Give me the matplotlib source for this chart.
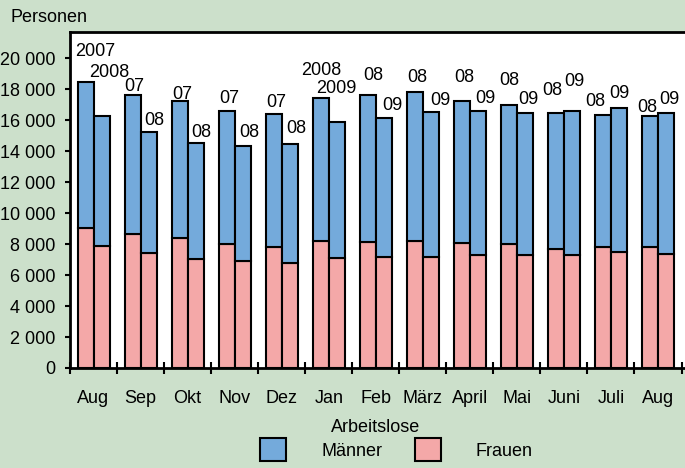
import matplotlib.pyplot as plt
from matplotlib.patches import Patch
import numpy as np

plt.rcParams['font.family'] = ['Liberation Sans', 'DejaVu Sans']
plt.rcParams['font.size'] = 13

months = ['Aug', 'Sep', 'Okt', 'Nov', 'Dez', 'Jan', 'Feb', 'März', 'April',
          'Mai', 'Juni', 'Juli', 'Aug']

# Vorjahr (linke Säule) / laufendes Jahr (rechte Säule)
frauen_prev = [9010, 8640, 8400, 8040, 7800, 8170, 8130, 8170, 8060, 8000, 7670, 7820, 7820]
maenner_prev = [9440, 8990, 8860, 8530, 8620, 9260, 9500, 9630, 9200, 8960, 8790, 8530, 8430]
frauen_curr = [7870, 7410, 7050, 6940, 6770, 7110, 7200, 7200, 7270, 7290, 7270, 7500, 7350]
maenner_curr = [8420, 7810, 7450, 7390, 7690, 8750, 8960, 9310, 9300, 9170, 9340, 9270, 9130]

labels_prev = ['2007', '07', '07', '07', '07', '2008', '08', '08', '08', '08', '08', '08', '08']
labels_curr = ['2008', '08', '08', '08', '08', '2009', '09', '09', '09', '09', '09', '09', '09']

# label nudges in pixels (dx, dy of text centre above bar top)
nudge_prev = [(9.5, 33), (1.5, 10.5), (2.4, 8.7), (2.7, 14.7), (2.3, 13), (0.4, 29.7),
              (5.5, 22), (2.4, 16.7), (2, 25), (0, 27), (-4, 24.7), (-7.3, 15.4), (-2.6, 11.3)]
nudge_curr = [(8, 45.7), (5.7, 13.5), (6, 13.3), (7, 15.3), (7, 17.7), (-0.6, 35.6),
              (8.7, 14.3), (9.5, 14), (7.4, 15.3), (3.7, 15.7), (2, 31.4), (0, 17.3), (3, 15)]

bg = '#cce0cb'
blue = '#74aadb'
pink = '#f4a8a8'

fig = plt.figure(figsize=(6.85, 4.68), dpi=100, facecolor=bg)
ax = fig.add_axes([70 / 685, 1 - 368 / 468, 615 / 685, 336 / 468])

x = np.arange(len(months)) + 0.5
w = 0.34
bar_kw = dict(width=w, edgecolor='black', linewidth=1.5)

ax.bar(x - w / 2, frauen_prev, color=pink, **bar_kw)
ax.bar(x - w / 2, maenner_prev, bottom=frauen_prev, color=blue, **bar_kw)
ax.bar(x + w / 2, frauen_curr, color=pink, **bar_kw)
ax.bar(x + w / 2, maenner_curr, bottom=frauen_curr, color=blue, **bar_kw)

for i in range(len(months)):
    top = frauen_prev[i] + maenner_prev[i]
    dx, dy = nudge_prev[i]
    ax.annotate(labels_prev[i], (x[i] - w / 2, top), xytext=(dx, dy - 6.5),
                textcoords='offset pixels', ha='center', va='baseline')
    top = frauen_curr[i] + maenner_curr[i]
    dx, dy = nudge_curr[i]
    ax.annotate(labels_curr[i], (x[i] + w / 2, top), xytext=(dx, dy - 6.5),
                textcoords='offset pixels', ha='center', va='baseline')

ax.set_xlim(0, 13.074)
ax.set_ylim(0, 21700)
ax.set_yticks(range(0, 20001, 2000))
ax.set_yticklabels([f'{v:,}'.replace(',', ' ') for v in range(0, 20001, 2000)])
ax.set_xticks(range(0, 14))
ax.set_xticklabels([])
ax.set_xticks(x, minor=True)
ax.set_xticklabels(months, minor=True)
ax.tick_params(axis='x', which='major', direction='inout', length=8, width=1.5)
ax.tick_params(axis='x', which='minor', length=0, pad=16)
ax.tick_params(axis='y', direction='out', length=3.6, width=1.5, pad=7)

ax.spines['right'].set_visible(False)
for s in ['left', 'bottom', 'top']:
    ax.spines[s].set_linewidth(2)

fig.text(10 / 685, 1 - 17 / 468, 'Personen', ha='left', va='center')
fig.text(376 / 685, 1 - 432 / 468, 'Arbeitslose', ha='center', va='baseline')

handles = [Patch(facecolor=blue, edgecolor='black', linewidth=1.5),
           Patch(facecolor=pink, edgecolor='black', linewidth=1.5)]
fig.legend(handles, ['Männer', 'Frauen'], ncol=2,
           loc='upper left', bbox_to_anchor=(260 / 685, 1 - 438 / 468),
           frameon=False, handlelength=1.44, handleheight=1.6,
           handletextpad=1.94, columnspacing=1.81, borderpad=0, borderaxespad=0)

fig.savefig('out.png', dpi=100, facecolor=bg)
